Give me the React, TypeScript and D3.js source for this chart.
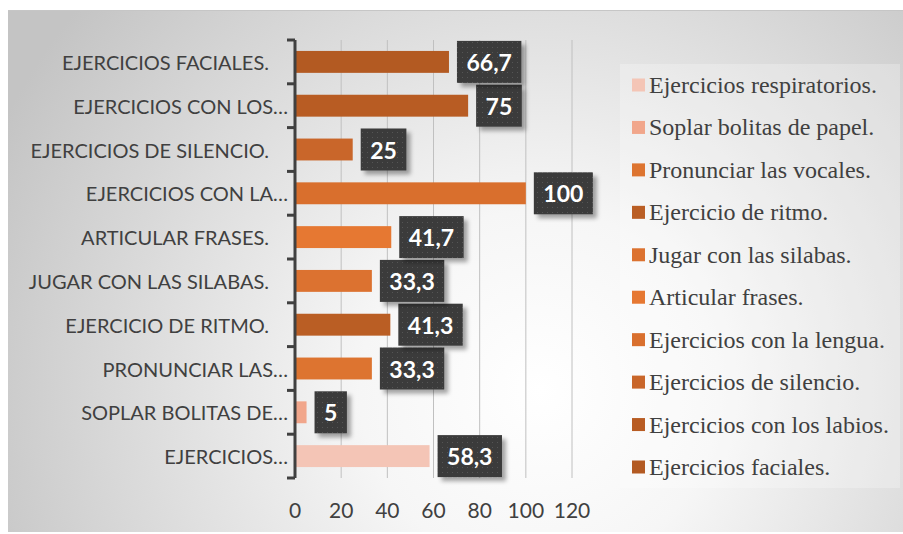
import { useMemo } from "react";
import * as d3 from "d3";

// data — bottom-to-top order, same as the legend
const categories = [
  "Ejercicios respiratorios.",
  "Soplar bolitas de papel.",
  "Pronunciar las vocales.",
  "Ejercicio de ritmo.",
  "Jugar con las silabas.",
  "Articular frases.",
  "Ejercicios con la lengua.",
  "Ejercicios de silencio.",
  "Ejercicios con los labios.",
  "Ejercicios faciales.",
];
const axisLabels = [
  "EJERCICIOS…",
  "SOPLAR BOLITAS DE…",
  "PRONUNCIAR LAS…",
  "EJERCICIO DE RITMO.",
  "JUGAR CON LAS SILABAS.",
  "ARTICULAR FRASES.",
  "EJERCICIOS CON LA…",
  "EJERCICIOS DE SILENCIO.",
  "EJERCICIOS CON LOS…",
  "EJERCICIOS FACIALES.",
];
const values = [58.3, 5, 33.3, 41.3, 33.3, 41.7, 100, 25, 75, 66.7];
const colors = [
  "#f4c5b6", "#f1a68b", "#dd7430", "#ba5e24", "#dc7230",
  "#e67832", "#d96f2d", "#c9662a", "#b85c23", "#b35a22",
];
const xTicks = [0, 20, 40, 60, 80, 100, 120];

const W = 903;
const H = 534;
const sans = "Lato, 'Open Sans', sans-serif";
const serif = "'Liberation Serif', 'Times New Roman', serif";

const fmt = (v: number) => String(v).replace(".", ",");

let ctx: CanvasRenderingContext2D | null = null;
function textWidth(s: string, font: string) {
  if (!ctx) ctx = document.createElement("canvas").getContext("2d");
  if (!ctx) return s.length * 12;
  ctx.font = font;
  return ctx.measureText(s).width;
}

export default function App() {
  const x = useMemo(() => d3.scaleLinear().domain([0, 120]).range([295, 572]), []);
  const y = useMemo(
    () =>
      d3.scaleBand<string>()
        .domain([...categories].reverse())
        .range([40, 478])
        .paddingInner(0.5)
        .paddingOuter(0.25),
    []
  );
  const step = y.step();
  const bounds = d3.range(categories.length + 1).map((i) => 40 + i * step);

  const legendY = d3.scalePoint<string>().domain(categories).range([85, 467]);

  return (
    <svg
      width={W}
      height={H}
      style={{ position: "absolute", left: 0, top: 0, display: "block" }}
    >
      <defs>
        <radialGradient id="bg" gradientUnits="userSpaceOnUse" cx={540} cy={390} r={600}>
          <stop offset="0" stopColor="#ffffff" />
          <stop offset="0.3" stopColor="#f6f6f6" />
          <stop offset="1" stopColor="#c4c4c4" />
        </radialGradient>
        <pattern id="dots" width={5} height={5} patternUnits="userSpaceOnUse">
          <rect width={5} height={5} fill="#3a3a3a" />
          <rect x={2} y={2} width={1} height={1} fill="#555" />
        </pattern>
        <filter id="shadow" x="-30%" y="-30%" width="170%" height="170%">
          <feDropShadow dx={4} dy={4} stdDeviation={2} floodColor="#000" floodOpacity={0.35} />
        </filter>
      </defs>

      <rect x={8} y={10} width={W} height={522} fill="url(#bg)" />
      <line x1={8} x2={W} y1={10.5} y2={10.5} stroke="#c6c6c6" strokeWidth={1} />

      {/* legend panel */}
      <rect x={620} y={64} width={280} height={424} fill="#fff" opacity={0.25} />

      {/* gridlines */}
      {xTicks.slice(1).map((t) => (
        <line key={t} x1={x(t)} x2={x(t)} y1={40} y2={478} stroke="#c0c0c0" strokeWidth={1} />
      ))}

      {/* bars */}
      {categories.map((c, i) => (
        <rect
          key={c}
          x={x(0)}
          y={y(c)}
          width={x(values[i]) - x(0)}
          height={y.bandwidth()}
          fill={colors[i]}
        />
      ))}

      {/* category axis */}
      <line x1={x(0)} x2={x(0)} y1={40} y2={478} stroke="#404040" strokeWidth={3} />
      {bounds.map((b, i) => (
        <line key={i} x1={287} x2={x(0)} y1={b} y2={b} stroke="#404040" strokeWidth={3} />
      ))}
      {categories.map((c, i) => {
        const lbl = axisLabels[i];
        const trunc = lbl.endsWith("…");
        return (
          <text
            key={c}
            x={trunc ? 288 : 269}
            y={(y(c) ?? 0) + y.bandwidth() / 2}
            textAnchor="end"
            dominantBaseline="central"
            fontFamily={sans}
            fontSize={20}
            fill="#404040"
          >
            {lbl}
          </text>
        );
      })}

      {/* value axis labels */}
      {xTicks.map((t) => (
        <text
          key={t}
          x={x(t)}
          y={509}
          textAnchor="middle"
          dominantBaseline="central"
          fontFamily={sans}
          fontSize={21}
          fill="#404040"
        >
          {t}
        </text>
      ))}

      {/* data labels */}
      {categories.map((c, i) => {
        const s = fmt(values[i]);
        const tw = textWidth(s, `bold 23px ${sans}`);
        const bw = tw + 19;
        const bx = x(values[i]) + 8;
        const cy = (y(c) ?? 0) + y.bandwidth() / 2;
        return (
          <g key={c}>
            <rect x={bx} y={cy - 21} width={bw} height={42} fill="url(#dots)" filter="url(#shadow)" />
            <text
              x={bx + bw / 2}
              y={cy}
              textAnchor="middle"
              dominantBaseline="central"
              fontFamily={sans}
              fontWeight="bold"
              fontSize={23}
              fill="#fff"
            >
              {s}
            </text>
          </g>
        );
      })}

      {/* legend */}
      {categories.map((c, i) => {
        const ly = legendY(c) ?? 0;
        return (
          <g key={c}>
            <rect x={632} y={ly - 6.5} width={13} height={13} fill={colors[i]} />
            <text
              x={649}
              y={ly}
              dominantBaseline="central"
              fontFamily={serif}
              fontSize={24}
              fill="#404040"
            >
              {c}
            </text>
          </g>
        );
      })}
    </svg>
  );
}
